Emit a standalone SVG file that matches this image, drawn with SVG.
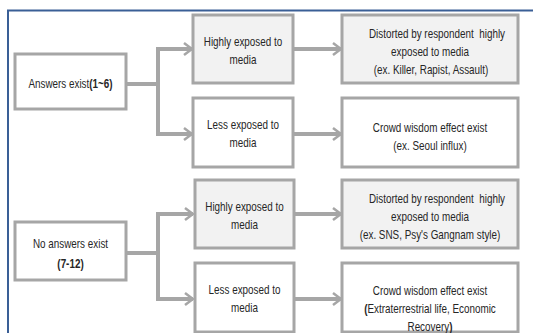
<svg xmlns="http://www.w3.org/2000/svg" width="533" height="333" viewBox="0 0 533 333">
<defs>
<style>
.box{stroke:#a6a6a6;stroke-width:3;}
.hi{fill:#f2f2f2;}
.lo{fill:#ffffff;}
.t{font-family:"Liberation Sans",Arial,sans-serif;font-size:13px;fill:#262626;text-anchor:middle;dominant-baseline:central;}
.b{font-weight:bold;}
.ln{fill:none;stroke:#a6a6a6;stroke-width:4;}
.ar{fill:none;stroke:#a6a6a6;stroke-width:4;marker-end:url(#arr);}
</style>
<marker id="arr" viewBox="0 0 12 14" refX="10" refY="7" markerWidth="3" markerHeight="3.5" orient="auto" markerUnits="strokeWidth">
<path d="M2,1 L10,7 L2,13" fill="none" stroke="#a6a6a6" stroke-width="2.5"/>
</marker>
</defs>
<rect width="533" height="333" fill="#ffffff"/>
<g id="frame">
<path d="M8,333 V10.5 H533" fill="none" stroke="#3a5f96" stroke-width="2"/>
</g>
<g id="connectors">
<path class="ln" d="M126,84 H158 M158,49 V134"/>
<path class="ar" d="M156,49 H192"/>
<path class="ar" d="M156,134 H192"/>
<path class="ar" d="M293,49 H341"/>
<path class="ar" d="M293,134 H341"/>
<path class="ln" d="M126,253 H158 M158,214 V299"/>
<path class="ar" d="M156,214 H193"/>
<path class="ar" d="M156,299 H193"/>
<path class="ar" d="M294,214 H341"/>
<path class="ar" d="M294,299 H341"/>
</g>
<g id="n1">
<rect class="box lo" x="15" y="54" width="111" height="55"/>
<text class="t" transform="translate(70.5,83) scale(0.76,1)">Answers exist<tspan class="b">(1~6)</tspan></text>
</g>
<g id="n2">
<rect class="box hi" x="193" y="15" width="100" height="68"/>
<text class="t" transform="translate(243,41) scale(0.76,1)">Highly exposed to</text>
<text class="t" transform="translate(243,59) scale(0.76,1)">media</text>
</g>
<g id="n3">
<rect class="box lo" x="193" y="98" width="100" height="69"/>
<text class="t" transform="translate(243,124) scale(0.76,1)">Less exposed to</text>
<text class="t" transform="translate(243,142) scale(0.76,1)">media</text>
</g>
<g id="n4">
<rect class="box hi" x="342" y="15" width="176" height="68"/>
<text class="t" transform="translate(437,33) scale(0.76,1)" xml:space="preserve">Distorted by respondent  highly</text>
<text class="t" transform="translate(430,51) scale(0.76,1)">exposed to media</text>
<text class="t" transform="translate(431,69) scale(0.76,1)">(ex. Killer, Rapist, Assault)</text>
</g>
<g id="n5">
<rect class="box lo" x="342" y="98" width="176" height="69"/>
<text class="t" transform="translate(430,127) scale(0.76,1)">Crowd wisdom effect exist</text>
<text class="t" transform="translate(430,145) scale(0.76,1)">(ex. Seoul influx)</text>
</g>
<g id="n6">
<rect class="box lo" x="15" y="222" width="111" height="58"/>
<text class="t" transform="translate(70.5,243) scale(0.76,1)">No answers exist</text>
<text class="t b" transform="translate(70.5,263) scale(0.76,1)">(7-12)</text>
</g>
<g id="n7">
<rect class="box hi" x="195" y="180" width="99" height="68"/>
<text class="t" transform="translate(244.5,206) scale(0.76,1)">Highly exposed to</text>
<text class="t" transform="translate(244.5,224) scale(0.76,1)">media</text>
</g>
<g id="n8">
<rect class="box lo" x="195" y="263" width="99" height="69"/>
<text class="t" transform="translate(244.5,289) scale(0.76,1)">Less exposed to</text>
<text class="t" transform="translate(244.5,307) scale(0.76,1)">media</text>
</g>
<g id="n9">
<rect class="box hi" x="342" y="180" width="176" height="68"/>
<text class="t" transform="translate(437,198) scale(0.76,1)" xml:space="preserve">Distorted by respondent  highly</text>
<text class="t" transform="translate(430,216) scale(0.76,1)">exposed to media</text>
<text class="t" transform="translate(430,234) scale(0.76,1)">(ex. SNS, Psy's Gangnam style)</text>
</g>
<g id="n10">
<rect class="box lo" x="342" y="263" width="176" height="69"/>
<text class="t" transform="translate(430,290) scale(0.76,1)">Crowd wisdom effect exist</text>
<text class="t" transform="translate(430,308) scale(0.76,1)"><tspan class="b">(</tspan>Extraterrestrial life, Economic</text>
<text class="t" transform="translate(430,326) scale(0.76,1)">Recovery<tspan class="b">)</tspan></text>
</g>
</svg>
